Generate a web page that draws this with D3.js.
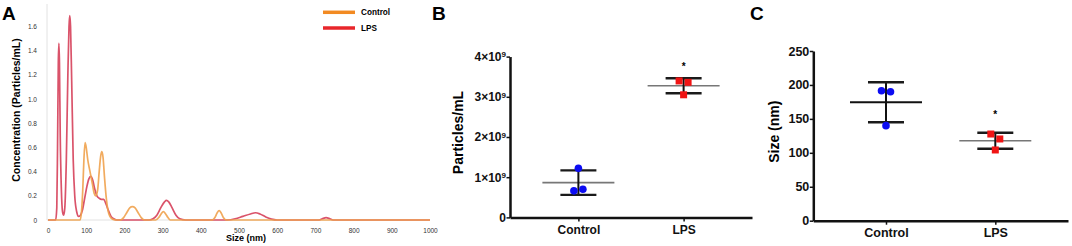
<!DOCTYPE html>
<html>
<head>
<meta charset="utf-8">
<script src="https://cdn.jsdelivr.net/npm/d3@7"></script>
<style>
  body { margin: 0; background: #fff; }
  svg { display: block; font-family: 'Liberation Sans', Arial, sans-serif; }
</style>
</head>
<body>
<div id="chart"></div>
<script>
// panel A: size distribution (Particles/mL, x10^?)
const sizeControl = [0, 84, 88, 91, 94, 97, 100, 104, 110, 116, 121, 125, 130, 134, 138, 141, 144, 148, 152, 157, 162, 170, 180,
  190, 198, 206, 214, 221, 228, 236, 244, 252, 282, 290, 296, 302, 308, 314, 320, 430, 437, 443, 448, 453, 459, 466, 1000]
const concControl = [0, 0, 0.08, 0.25, 0.5, 0.64, 0.6, 0.5, 0.4, 0.3, 0.22, 0.2, 0.25, 0.4, 0.53, 0.565, 0.52, 0.35, 0.2, 0.08, 0.03, 0.005, 0,
  0, 0.02, 0.06, 0.1, 0.11, 0.1, 0.06, 0.02, 0, 0, 0.02, 0.05, 0.07, 0.05, 0.02, 0, 0, 0.02, 0.06, 0.077, 0.06, 0.02, 0, 0]
const sizeLPS = [0, 20, 23, 25, 27, 28.5, 30, 32, 35, 38, 41, 44, 48, 52, 55, 57, 59, 62, 66, 70, 75, 80, 85, 90, 96, 102, 107, 112, 117,
  122, 128, 134, 140, 146, 152, 158, 165, 172, 180, 265, 275, 285, 295, 305, 310, 316, 325, 335, 345, 360, 470, 490, 510, 530, 543,
  555, 570, 585, 600, 710, 718, 728, 738, 746, 1000]
const concLPS = [0, 0, 0.1, 0.6, 1.3, 1.46, 1.3, 0.7, 0.25, 0.07, 0.04, 0.1, 0.5, 1.2, 1.6, 1.69, 1.6, 1.15, 0.5, 0.2, 0.07, 0.03, 0.04, 0.08, 0.18, 0.28, 0.34, 0.36, 0.33,
  0.26, 0.2, 0.18, 0.17, 0.17, 0.13, 0.08, 0.03, 0.01, 0, 0, 0.01, 0.04, 0.1, 0.15, 0.163, 0.15, 0.1, 0.04, 0.01, 0, 0, 0.01, 0.03, 0.05, 0.06,
  0.05, 0.025, 0.007, 0, 0, 0.01, 0.02, 0.01, 0, 0]
const ticksAx = [0, 100, 200, 300, 400, 500, 600, 700, 800, 900, 1000]
const ticksAy = [0, 0.2, 0.4, 0.6, 0.8, 1.0, 1.2, 1.4, 1.6]

// panels B and C
const groups = ['Control', 'LPS']
const particlesControl = [1.22, 0.66, 0.70] // x10^9
const particlesLPS = [3.395, 3.36, 3.05]
const particlesMean = [0.865, 3.275]
const particlesSD = [0.305, 0.185]
const particlesStar = 3.8
const ticksB = [0, 1, 2, 3, 4]

const sizeCtrlPts = [191.5, 190, 140]
const sizeLPSPts = [127.7, 120.4, 104.2]
const sizeMean = [174.5, 117.8]
const sizeSD = [29.5, 11.8]
const sizeStar = 158
const ticksC = [0, 50, 100, 150, 200, 250]

const W = 1072, H = 246
const svg = d3.select('#chart').append('svg').attr('width', W).attr('height', H)
svg.append('rect').attr('width', W).attr('height', H).attr('fill', '#fff')

const panelLabel = (x, t) => svg.append('text').attr('x', x).attr('y', 20)
  .attr('font-size', 19).attr('font-weight', 'bold').attr('fill', '#000').text(t)

// ---------- A ----------
const xA = d3.scaleLinear().domain([0, 1000]).range([48, 430])
const yA = d3.scaleLinear().domain([0, 1.6]).range([220, 26.4])
const gA = svg.append('g')

gA.append('line').attr('x1', xA(0) - 1).attr('x2', xA(0) - 1).attr('y1', 4).attr('y2', yA(0))
  .attr('stroke', '#e2e2e2').attr('stroke-width', 1)
gA.append('line').attr('x1', xA(0) - 1).attr('x2', xA(1000)).attr('y1', yA(0)).attr('y2', yA(0))
  .attr('stroke', '#e2e2e2').attr('stroke-width', 1)

const axA = gA.append('g').attr('transform', `translate(0,${yA(0)})`)
  .call(d3.axisBottom(xA).tickValues(ticksAx).tickSize(0).tickPadding(8).tickFormat(d3.format('d')))
axA.select('.domain').remove()
axA.selectAll('text').attr('font-size', 6.5).attr('fill', '#333').attr('font-family', null)

const ayA = gA.append('g').attr('transform', `translate(${xA(0) - 1},0)`)
  .call(d3.axisLeft(yA).tickValues(ticksAy).tickSize(0).tickPadding(10)
    .tickFormat((d) => (d === 0 ? '0' : d.toFixed(1))))
ayA.select('.domain').remove()
ayA.selectAll('text').attr('font-size', 6.5).attr('fill', '#333').attr('font-family', null)

const line = (xs, ys) => d3.line().x((d, i) => xA(xs[i])).y((d) => yA(d)).curve(d3.curveMonotoneX)(ys)
gA.append('path').attr('d', line(sizeLPS, concLPS)).attr('fill', 'none')
  .attr('stroke', '#d6405a').attr('stroke-width', 1.7).attr('stroke-opacity', 0.9)
gA.append('path').attr('d', line(sizeControl, concControl)).attr('fill', 'none')
  .attr('stroke', '#f0a24e').attr('stroke-width', 1.7).attr('stroke-opacity', 0.9)

gA.append('text').attr('transform', `translate(19.5,110) rotate(-90)`).attr('text-anchor', 'middle')
  .attr('font-size', 10.5).attr('font-weight', 'bold').text('Concentration (Particles/mL)')
gA.append('text').attr('x', 246).attr('y', 241).attr('text-anchor', 'middle')
  .attr('font-size', 9).attr('font-weight', 'bold').text('Size (nm)')

const legend = [['Control', '#f28a22'], ['LPS', '#e8262b']]
legend.forEach(([name, c], i) => {
  const y = 12.3 + i * 15.7
  gA.append('line').attr('x1', 323).attr('x2', 355).attr('y1', y).attr('y2', y)
    .attr('stroke', c).attr('stroke-width', 3.5)
  gA.append('text').attr('x', 361).attr('y', y + 3).attr('font-size', 8.2).attr('font-weight', 'bold').text(name)
})
panelLabel(2, 'A')

// ---------- B / C ----------
const scatterPanel = (opt) => {
  const g = svg.append('g')
  const x = d3.scalePoint().domain(groups).range(opt.xr).padding(opt.pad)
  const y = d3.scaleLinear().domain(opt.yd).range(opt.yr)

  const ax = g.append('g').attr('transform', `translate(0,${opt.yr[0]})`)
    .call(d3.axisBottom(x).tickSize(4).tickSizeOuter(0).tickPadding(opt.catPad))
  ax.select('.domain').attr('stroke', '#111').attr('stroke-width', 2.5)
  ax.selectAll('.tick line').attr('stroke', '#111').attr('stroke-width', 1.5)
  ax.selectAll('text').attr('font-size', opt.catSize).attr('font-weight', 'bold')
    .attr('fill', '#111').attr('font-family', null)

  const ay = g.append('g').attr('transform', `translate(${opt.xr[0]},0)`)
    .call(d3.axisLeft(y).tickValues(opt.ticks).tickSize(3.5).tickSizeOuter(0).tickPadding(0.5).tickFormat(opt.fmt))
  ay.select('.domain').attr('stroke', '#111').attr('stroke-width', 2.5)
  ay.selectAll('.tick line').attr('stroke', '#111').attr('stroke-width', 1.5)
  ay.selectAll('text').attr('font-size', opt.tickSize).attr('font-weight', 'bold')
    .attr('fill', '#111').attr('font-family', null)
  if (opt.sup) {
    ay.selectAll('.tick text').each(function (d) {
      if (d === 0) return
      const t = d3.select(this).text('')
      t.append('tspan').text(`${d}×10`)
      t.append('tspan').attr('font-size', 8).attr('dy', '-0.45em').text('9')
    })
  }

  g.append('text').attr('transform', `translate(${opt.titleX},${opt.titleY}) rotate(-90)`)
    .attr('text-anchor', 'middle').attr('font-size', 14).attr('font-weight', 'bold').text(opt.title)

  groups.forEach((grp, gi) => {
    const cx = x(grp)
    const m = opt.mean[gi], s = opt.sd[gi]
    g.append('line').attr('x1', cx - 36).attr('x2', cx + 36).attr('y1', y(m)).attr('y2', y(m))
      .attr('stroke', opt.meanColor[gi]).attr('stroke-width', opt.meanColor[gi] === '#111' ? 2.2 : 1.6)
    g.append('line').attr('x1', cx).attr('x2', cx).attr('y1', y(m + s)).attr('y2', y(m - s))
      .attr('stroke', '#111').attr('stroke-width', 2)
    ;[m + s, m - s].forEach((v) => {
      g.append('line').attr('x1', cx - 18).attr('x2', cx + 18).attr('y1', y(v)).attr('y2', y(v))
        .attr('stroke', '#1a1a1a').attr('stroke-width', 2.4)
    })

    // spread points that would overlap (scatter dot plot)
    const pts = opt.points[gi]
    const py = pts.map((v) => y(v))
    const used = pts.map(() => false)
    const offs = pts.map(() => 0)
    pts.forEach((v, i) => {
      if (used[i]) return
      const cl = [i]
      pts.forEach((w, j) => { if (j > i && !used[j] && Math.abs(py[j] - py[i]) < 7) cl.push(j) })
      cl.forEach((k, n) => { used[k] = true; offs[k] = (n - (cl.length - 1) / 2) * 9 })
    })
    pts.forEach((v, i) => {
      if (gi === 0) {
        g.append('circle').attr('cx', cx + offs[i]).attr('cy', y(v)).attr('r', 3.8).attr('fill', '#0c0cf2')
      } else {
        g.append('rect').attr('x', cx + offs[i] - 3.5).attr('y', y(v) - 3.5).attr('width', 7).attr('height', 7)
          .attr('fill', '#f01414')
      }
    })
  })
  g.append('text').attr('x', x('LPS')).attr('y', y(opt.star) + 5).attr('text-anchor', 'middle')
    .attr('font-size', 10).attr('font-weight', 'bold').text('*')
}

scatterPanel({
  xr: [510, 752], pad: 0.65, yd: [0, 4], yr: [217.4, 56.6], ticks: ticksB, fmt: (d) => d,
  sup: true, tickSize: 12, catSize: 12, catPad: 4,
  title: 'Particles/mL', titleX: 462.5, titleY: 132.5,
  points: [particlesControl, particlesLPS], mean: particlesMean, sd: particlesSD,
  meanColor: ['#777', '#777'], star: particlesStar
})
panelLabel(432, 'B')

scatterPanel({
  xr: [813.3, 1068], pad: 0.665, yd: [0, 250], yr: [220.7, 51], ticks: ticksC, fmt: d3.format('d'),
  sup: false, tickSize: 12.5, catSize: 12.5, catPad: 3.4,
  title: 'Size (nm)', titleX: 778.5, titleY: 131.7,
  points: [sizeCtrlPts, sizeLPSPts], mean: sizeMean, sd: sizeSD,
  meanColor: ['#111', '#777'], star: sizeStar
})
panelLabel(750, 'C')
</script>
</body>
</html>
